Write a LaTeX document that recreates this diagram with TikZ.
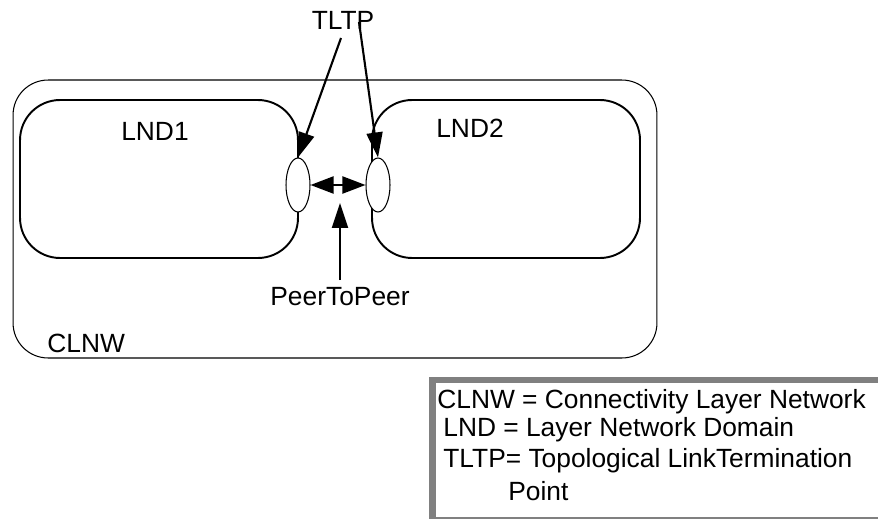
\documentclass[tikz,border=0pt]{standalone}
\usepackage{fontspec}
\setmainfont{Liberation Sans}
\usetikzlibrary{arrows,arrows.meta,shapes,positioning}

\tikzset{
  domain/.style={draw, line width=1.1pt, rounded corners=0.8cm, minimum width=#1, minimum height=3.16cm},
  tltp/.style={ellipse, draw, fill=white, line width=0.6pt, minimum width=0.48cm, minimum height=1.08cm, inner sep=0pt},
  pointer/.style={line width=1.2pt, -{Triangle[length=0.5cm, width=0.32cm]}},
  lbl/.style={font=\fontsize{15}{18}\selectfont, inner sep=0pt}
}

\begin{document}
\begin{tikzpicture}[x=0.02cm, y=-0.02cm]
      \useasboundingbox (0,0) rectangle (878,520);

      % Layer network
      \node[draw, line width=0.6pt, rounded corners=0.7cm, minimum width=12.88cm, minimum height=5.56cm] (clnw) at (335,219) {};
      \node[domain=5.56cm] (lnd1) at (159,179) {};
      \node[domain=5.36cm] (lnd2) at (506,179) {};

      % Termination points
      \node[tltp] (tp1) at (298,185) {};
      \node[tltp] (tp2) at (378,185) {};

      % Labels
      \node[lbl] (lndone) at (155,131) {LND1};
      \node[lbl] (lndtwo) at (470,128) {LND2};
      \node[lbl, anchor=west] (clnwlbl) at (47,343) {CLNW};
      \node[lbl] (tltplbl) at (343,20) {TLTP};
      \node[lbl] (peer) at (340,297) {PeerToPeer};

      % Connections
      \coordinate (t1) at (341,38);
      \coordinate (t2) at (359,22);
      \coordinate (p1) at (340,280);
      \draw[pointer] (t1) -- (tp1.north);
      \draw[pointer] (t2) -- (tp2.north);
      \draw[pointer] (p1) -- (340,203);
      \draw[line width=1.2pt, {Triangle[length=0.46cm, width=0.34cm]}-{Triangle[length=0.46cm, width=0.34cm]}] (tp1.east) -- (tp2.west);

      % Legend
      \fill[gray] (429,377) rectangle (880,519);
      \fill[white] (436,383) rectangle (880,517);
      \node[lbl, anchor=west] (key1) at (437,402) {CLNW = Connectivity Layer Network};
      \node[lbl, anchor=west] (key2) at (443,430) {LND = Layer Network Domain};
      \node[lbl, anchor=west] (key3) at (443,461) {TLTP= Topological LinkTermination};
      \node[lbl, anchor=west] (key4) at (508,491) {Point};
    \end{tikzpicture}
\end{document}
